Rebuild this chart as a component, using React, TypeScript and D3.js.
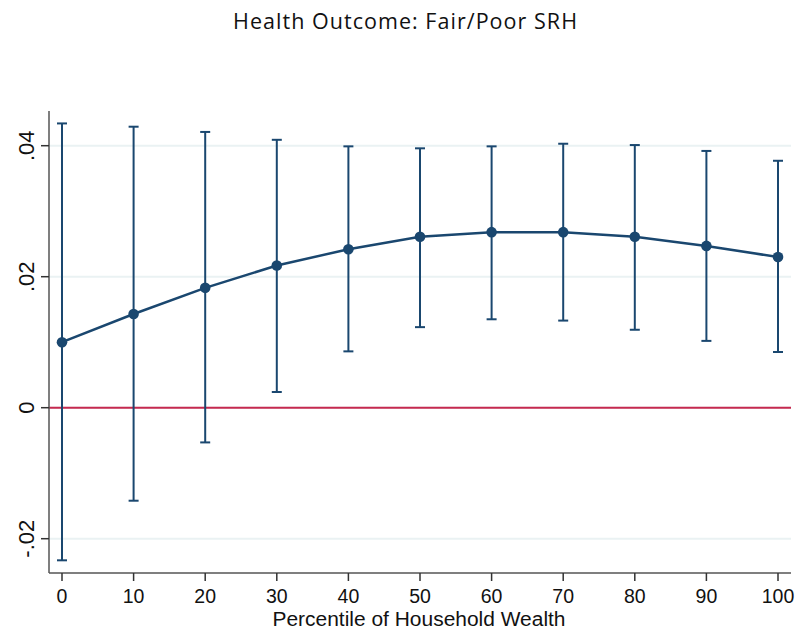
import React from "react";
import * as d3 from "d3";

const percentiles = [0, 10, 20, 30, 40, 50, 60, 70, 80, 90, 100];
const estimates = [0.0100, 0.0143, 0.0183, 0.0217, 0.0242, 0.0261, 0.0268, 0.0268, 0.0261, 0.0247, 0.0230];
const upperCI = [0.0434, 0.0429, 0.0421, 0.0409, 0.0399, 0.0396, 0.0399, 0.0403, 0.0401, 0.0392, 0.0377];
const lowerCI = [-0.0233, -0.0142, -0.0053, 0.0024, 0.0086, 0.0123, 0.0135, 0.0133, 0.0119, 0.0102, 0.0085];
const yTicks = [-0.02, 0, 0.02, 0.04];
const yTickLabels = ["-.02", "0", ".02", ".04"];
const xTicks = [0, 10, 20, 30, 40, 50, 60, 70, 80, 90, 100];

const W = 798;
const H = 631;
const NAVY = "#1a476f";
const RED = "#c62a4f";

export default function App() {
  const x = d3.scaleLinear().domain([0, 100]).range([62, 778]);
  const y = d3.scaleLinear().domain([0, 0.04]).range([407.7, 145.7]);
  const left = 49;
  const right = 791;
  const top = 111;
  const bottom = 573;
  const pts = percentiles.map((p, i) => ({ p, v: estimates[i], u: upperCI[i], l: lowerCI[i] }));
  const line = d3
    .line<{ p: number; v: number }>()
    .x((d) => x(d.p))
    .y((d) => y(d.v));
  const cap = 5;

  return (
    <svg width={W} height={H} style={{ display: "block", position: "absolute", left: 0, top: 0, background: "#fff" }}>
      <rect x={0} y={0} width={W} height={H} fill="#fff" />
      <text
        x={405}
        y={29}
        textAnchor="middle"
        fontFamily="'Open Sans', 'DejaVu Sans', sans-serif"
        fontSize={21.5}
        fill="#111"
        textLength={344}
        lengthAdjust="spacing"
      >
        Health Outcome: Fair/Poor SRH
      </text>
      {yTicks.map((t) => (
        <line key={"g" + t} x1={left} x2={right} y1={y(t)} y2={y(t)} stroke="#eaf2f3" strokeWidth={2} />
      ))}
      <line x1={left} x2={right} y1={y(0)} y2={y(0)} stroke={RED} strokeWidth={2} />
      {pts.map((d) => (
        <g key={"e" + d.p} stroke={NAVY} strokeWidth={2}>
          <line x1={x(d.p)} x2={x(d.p)} y1={y(d.u)} y2={y(d.l)} />
          <line x1={x(d.p) - cap} x2={x(d.p) + cap} y1={y(d.u)} y2={y(d.u)} />
          <line x1={x(d.p) - cap} x2={x(d.p) + cap} y1={y(d.l)} y2={y(d.l)} />
        </g>
      ))}
      <path d={line(pts) || ""} fill="none" stroke={NAVY} strokeWidth={2.5} />
      {pts.map((d) => (
        <circle key={"c" + d.p} cx={x(d.p)} cy={y(d.v)} r={5.3} fill={NAVY} />
      ))}
      <line x1={left} x2={left} y1={top} y2={bottom} stroke="#555" strokeWidth={1.5} />
      <line x1={left} x2={right} y1={bottom} y2={bottom} stroke="#555" strokeWidth={1.5} />
      {yTicks.map((t, i) => (
        <g key={"yt" + t}>
          <line x1={left - 8} x2={left} y1={y(t)} y2={y(t)} stroke="#333" strokeWidth={1.5} />
          <text
            transform={`translate(34,${y(t)}) rotate(-90)`}
            textAnchor="middle"
            fontFamily="'Liberation Sans', Arial, sans-serif"
            fontSize={22}
            fill="#111"
          >
            {yTickLabels[i]}
          </text>
        </g>
      ))}
      {xTicks.map((t) => (
        <g key={"xt" + t}>
          <line x1={x(t)} x2={x(t)} y1={bottom} y2={bottom + 8} stroke="#333" strokeWidth={1.5} />
          <text x={x(t)} y={603} textAnchor="middle" fontFamily="'Liberation Sans', Arial, sans-serif" fontSize={19.5} fill="#111">
            {t}
          </text>
        </g>
      ))}
      <text
        x={419}
        y={626}
        textAnchor="middle"
        fontFamily="'Liberation Sans', Arial, sans-serif"
        fontSize={20}
        fill="#111"
        textLength={293}
        lengthAdjust="spacingAndGlyphs"
      >
        Percentile of Household Wealth
      </text>
    </svg>
  );
}
